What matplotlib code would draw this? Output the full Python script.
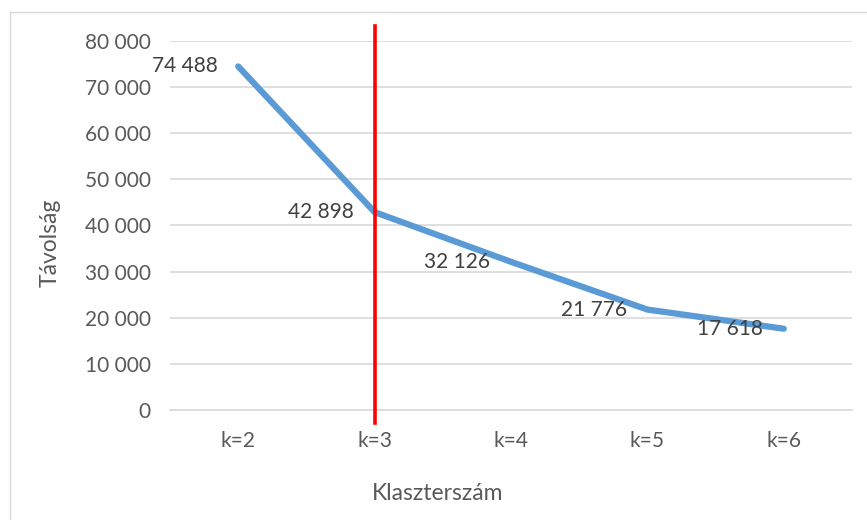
import matplotlib
matplotlib.use("Agg")
import matplotlib.pyplot as plt
from matplotlib.patches import Rectangle
from matplotlib.ticker import FuncFormatter

categories = ["k=2", "k=3", "k=4", "k=5", "k=6"]
values = [74488, 42898, 32126, 21776, 17618]
y_ticks = [0, 10000, 20000, 30000, 40000, 50000, 60000, 70000, 80000]
elbow_index = 1

plt.rcParams['font.family'] = ['Lato', 'DejaVu Sans']
txt = '#595959'

W, H = 867, 520
fig = plt.figure(figsize=(W / 100, H / 100), dpi=100)

# chart border (only left/top visible in reference)
fig.patches.append(Rectangle((10 / W, -0.01), (W + 10) / W, (H - 12) / H + 0.01,
                             transform=fig.transFigure, fill=False,
                             edgecolor='#d9d9d9', linewidth=1.0))

left, right = 170 / W, 852 / W
top, bottom = 1 - 41 / H, 1 - 410 / H
ax = fig.add_axes([left, bottom, right - left, top - bottom])

x = list(range(len(categories)))
ax.plot(x, values, color='#5b9bd5', linewidth=4.5, solid_capstyle='round',
        solid_joinstyle='round', zorder=3)

ax.set_xlim(-0.5, len(categories) - 0.5)
ax.set_ylim(0, 80000)
ax.set_yticks(y_ticks)
ax.yaxis.set_major_formatter(FuncFormatter(lambda v, p: f"{int(v):,}".replace(",", " ")))
ax.set_xticks(x)
ax.set_xticklabels(categories)
ax.grid(axis='y', color='#d9d9d9', linewidth=1.2)
ax.set_axisbelow(True)
for s in ax.spines.values():
    s.set_visible(False)
ax.spines['bottom'].set_visible(True)
ax.spines['bottom'].set_color('#d9d9d9')
ax.spines['bottom'].set_linewidth(1.2)
ax.tick_params(axis='both', length=0, labelsize=15, labelcolor=txt)
ax.tick_params(axis='y', pad=14)
ax.tick_params(axis='x', pad=15)

for xi, v in zip(x, values):
    ax.annotate(f"{v:,}".replace(",", " "), (xi, v), xytext=(-15, 0),
                textcoords='offset points', ha='right', va='center',
                fontsize=15, color='#404040', zorder=4)

# red elbow line extending beyond plot area
ax.plot([elbow_index, elbow_index], [83200, -2800], color='#ff0000',
        linewidth=2.6, clip_on=False, zorder=5)

fig.text(50 / W, 1 - 243 / H, "Távolság", rotation=90, ha='center', va='center',
         fontsize=16.5, color=txt)
fig.text(438 / W, 1 - 493 / H, "Klaszterszám", ha='center', va='center',
         fontsize=16.5, color=txt)

fig.savefig("out.png", dpi=100, facecolor='white')
